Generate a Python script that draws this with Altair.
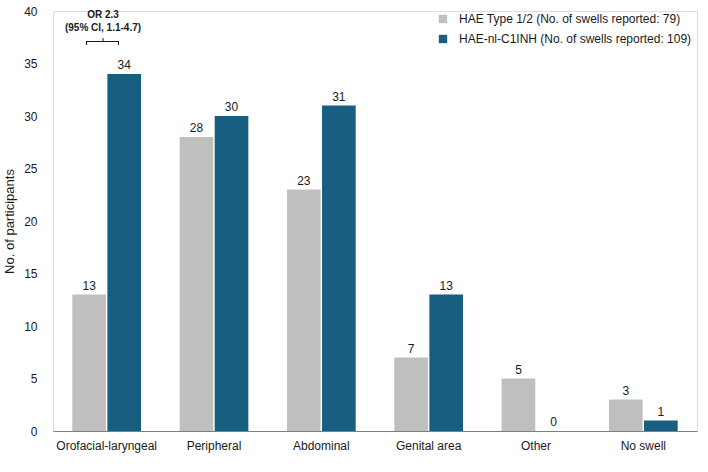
import altair as alt
import pandas as pd

# Swell locations and participant counts per HAE group
categories = ["Orofacial-laryngeal", "Peripheral", "Abdominal", "Genital area", "Other", "No swell"]
groups = ["HAE Type 1/2 (No. of swells reported: 79)", "HAE-nl-C1INH (No. of swells reported: 109)"]
hae_type12 = [13, 28, 23, 7, 5, 3]
hae_nl = [34, 30, 31, 13, 0, 1]
colors = ["#BFBFBF", "#175E80"]

rows = []
for cat, a, b in zip(categories, hae_type12, hae_nl):
    rows.append({"location": cat, "group": groups[0], "n": a})
    rows.append({"location": cat, "group": groups[1], "n": b})
df = pd.DataFrame(rows)

FONT = "Liberation Sans"

x_enc = alt.X("location:N", sort=categories, title=None,
              scale=alt.Scale(paddingInner=0.36, paddingOuter=0.18),
              axis=alt.Axis(labelAngle=0, labelFontSize=12, labelColor="#1a1a1a",
                            labelFont=FONT, ticks=False, domainColor="#7f7f7f",
                            labelPadding=9, grid=False))
xoff = alt.XOffset("group:N", sort=groups, scale=alt.Scale(paddingInner=0.04))
y_enc = alt.Y("n:Q", scale=alt.Scale(domain=[0, 40], nice=False),
              axis=alt.Axis(values=list(range(0, 41, 5)), title="No. of participants",
                            titleFontSize=13, titleFont=FONT, titleFontWeight="normal",
                            titleColor="#1a1a1a", titleX=-37, titleY=210,
                            labelFontSize=12, labelFont=FONT, labelColor="#1a1a1a",
                            ticks=False, domain=False, grid=False, labelPadding=16))

bars = alt.Chart(df).mark_bar().encode(
    x=x_enc, xOffset=xoff, y=y_enc,
    color=alt.Color("group:N", sort=groups, title=None,
                    scale=alt.Scale(domain=groups, range=colors),
                    legend=alt.Legend(orient="none", legendX=384, legendY=2,
                                      symbolType="square", symbolSize=70,
                                      symbolStrokeWidth=0, labelFontSize=12,
                                      labelFont=FONT, labelColor="#1a1a1a",
                                      labelLimit=0, labelOffset=10, rowPadding=8,
                                      padding=0)),
)

labels = alt.Chart(df).mark_text(dy=-9, fontSize=12, font=FONT, color="#1a1a1a").encode(
    x=alt.X("location:N", sort=categories), xOffset=xoff, y="n:Q", text="n:Q"
)

# Odds-ratio bracket above the first group
bracket_h = alt.Chart().mark_rule(color="#1a1a1a", strokeWidth=1).encode(
    x=alt.value(33), x2=alt.value(66), y=alt.value(30.5))
bracket_l = alt.Chart().mark_rule(color="#1a1a1a", strokeWidth=1).encode(
    x=alt.value(33.5), y=alt.value(30.5), y2=alt.value(34))
bracket_r = alt.Chart().mark_rule(color="#1a1a1a", strokeWidth=1).encode(
    x=alt.value(65.5), y=alt.value(30.5), y2=alt.value(34))
bracket_m = alt.Chart().mark_rule(color="#1a1a1a", strokeWidth=1).encode(
    x=alt.value(50), y=alt.value(27), y2=alt.value(30.5))
or_text = alt.Chart().mark_text(fontSize=10, font=FONT, fontWeight="bold", color="#1a1a1a",
                                lineHeight=13, baseline="middle").encode(
    x=alt.value(50), y=alt.value(4),
    text=alt.value(["OR 2.3", "(95% CI, 1.1-4.7)"]))

chart = alt.layer(bars, labels, bracket_h, bracket_l, bracket_r, bracket_m, or_text).properties(
    width=644, height=420,
    autosize=alt.AutoSizeParams(type="none"),
    padding={"left": 53, "top": 11, "right": 11, "bottom": 41},
).configure_view(stroke=None).configure(background="white")

chart.save("out.html", embed_options={"renderer": "svg", "actions": False})
